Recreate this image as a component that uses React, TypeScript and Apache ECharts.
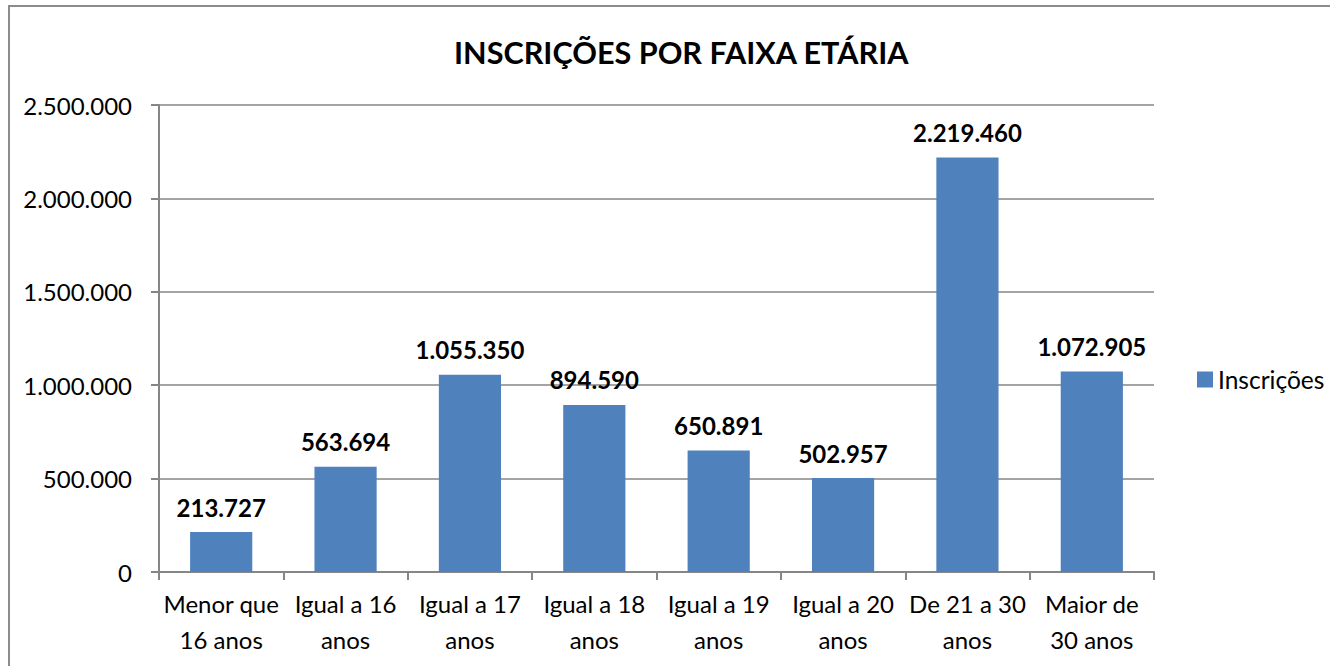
import React, { useEffect, useRef } from "react";
import * as echarts from "echarts";

const categories = [
  "Menor que\n16 anos",
  "Igual a 16\nanos",
  "Igual a 17\nanos",
  "Igual a 18\nanos",
  "Igual a 19\nanos",
  "Igual a 20\nanos",
  "De 21 a 30\nanos",
  "Maior de\n30 anos",
];
const inscricoes = [213727, 563694, 1055350, 894590, 650891, 502957, 2219460, 1072905];
const seriesName = "Inscrições";
const titleText = "INSCRIÇÕES POR FAIXA ETÁRIA";

const fmt = (v: number) => String(Math.round(v)).replace(/\B(?=(\d{3})+(?!\d))/g, ".");

const FONT = "Lato, 'Open Sans', sans-serif";

export default function App() {
  const ref = useRef<HTMLDivElement>(null);
  useEffect(() => {
    if (!ref.current) return;
    const chart = echarts.init(ref.current, undefined, { renderer: "svg" });
    chart.setOption({
      animation: false,
      backgroundColor: "#ffffff",
      title: {
        text: titleText,
        left: 449,
        top: 32,
        textStyle: { fontFamily: FONT, fontSize: 30.6, fontWeight: "bold", color: "#000" },
      },
      legend: {
        data: [seriesName],
        left: 1192,
        top: 362,
        icon: "rect",
        itemWidth: 16,
        itemHeight: 16,
        itemGap: 6,
        textStyle: { fontFamily: FONT, fontSize: 24.5, color: "#000", padding: [0, 0, 0, 0] },
      },
      grid: { left: 159, top: 105, right: 176, bottom: 94, containLabel: false },
      xAxis: {
        type: "category",
        data: categories,
        axisLine: { lineStyle: { color: "#868686", width: 2 } },
        axisTick: { show: true, alignWithLabel: false, length: 8, lineStyle: { color: "#868686", width: 2 } },
        axisLabel: {
          fontFamily: FONT,
          fontSize: 24,
          color: "#000",
          lineHeight: 36,
          margin: 13,
          interval: 0,
        },
      },
      yAxis: {
        type: "value",
        min: 0,
        max: 2500000,
        interval: 500000,
        axisLine: { show: true, lineStyle: { color: "#868686", width: 2 } },
        axisTick: { show: true, length: 8, lineStyle: { color: "#868686", width: 2 } },
        splitLine: { lineStyle: { color: "#868686", width: 1.5 } },
        axisLabel: {
          fontFamily: FONT,
          fontSize: 24,
          color: "#000",
          margin: 27,
          formatter: (v: number) => fmt(v),
        },
      },
      series: [
        {
          name: seriesName,
          type: "bar",
          data: inscricoes,
          barCategoryGap: "50%",
          itemStyle: { color: "#4F81BD" },
          label: {
            show: true,
            position: "top",
            distance: 13,
            fontFamily: FONT,
            fontSize: 24,
            fontWeight: "bold",
            color: "#000",
            formatter: (p: any) => fmt(p.value),
          },
        },
      ],
      graphic: [
        {
          type: "rect",
          shape: { x: 9, y: 6, width: 1340, height: 680 },
          style: { fill: "none", stroke: "#8c8c8c", lineWidth: 2 },
          silent: true,
          z: 100,
        },
      ],
    });
    return () => chart.dispose();
  }, []);
  return (
    <div
      ref={ref}
      style={{ position: "fixed", left: 0, top: 0, width: 1330, height: 666 }}
    />
  );
}
